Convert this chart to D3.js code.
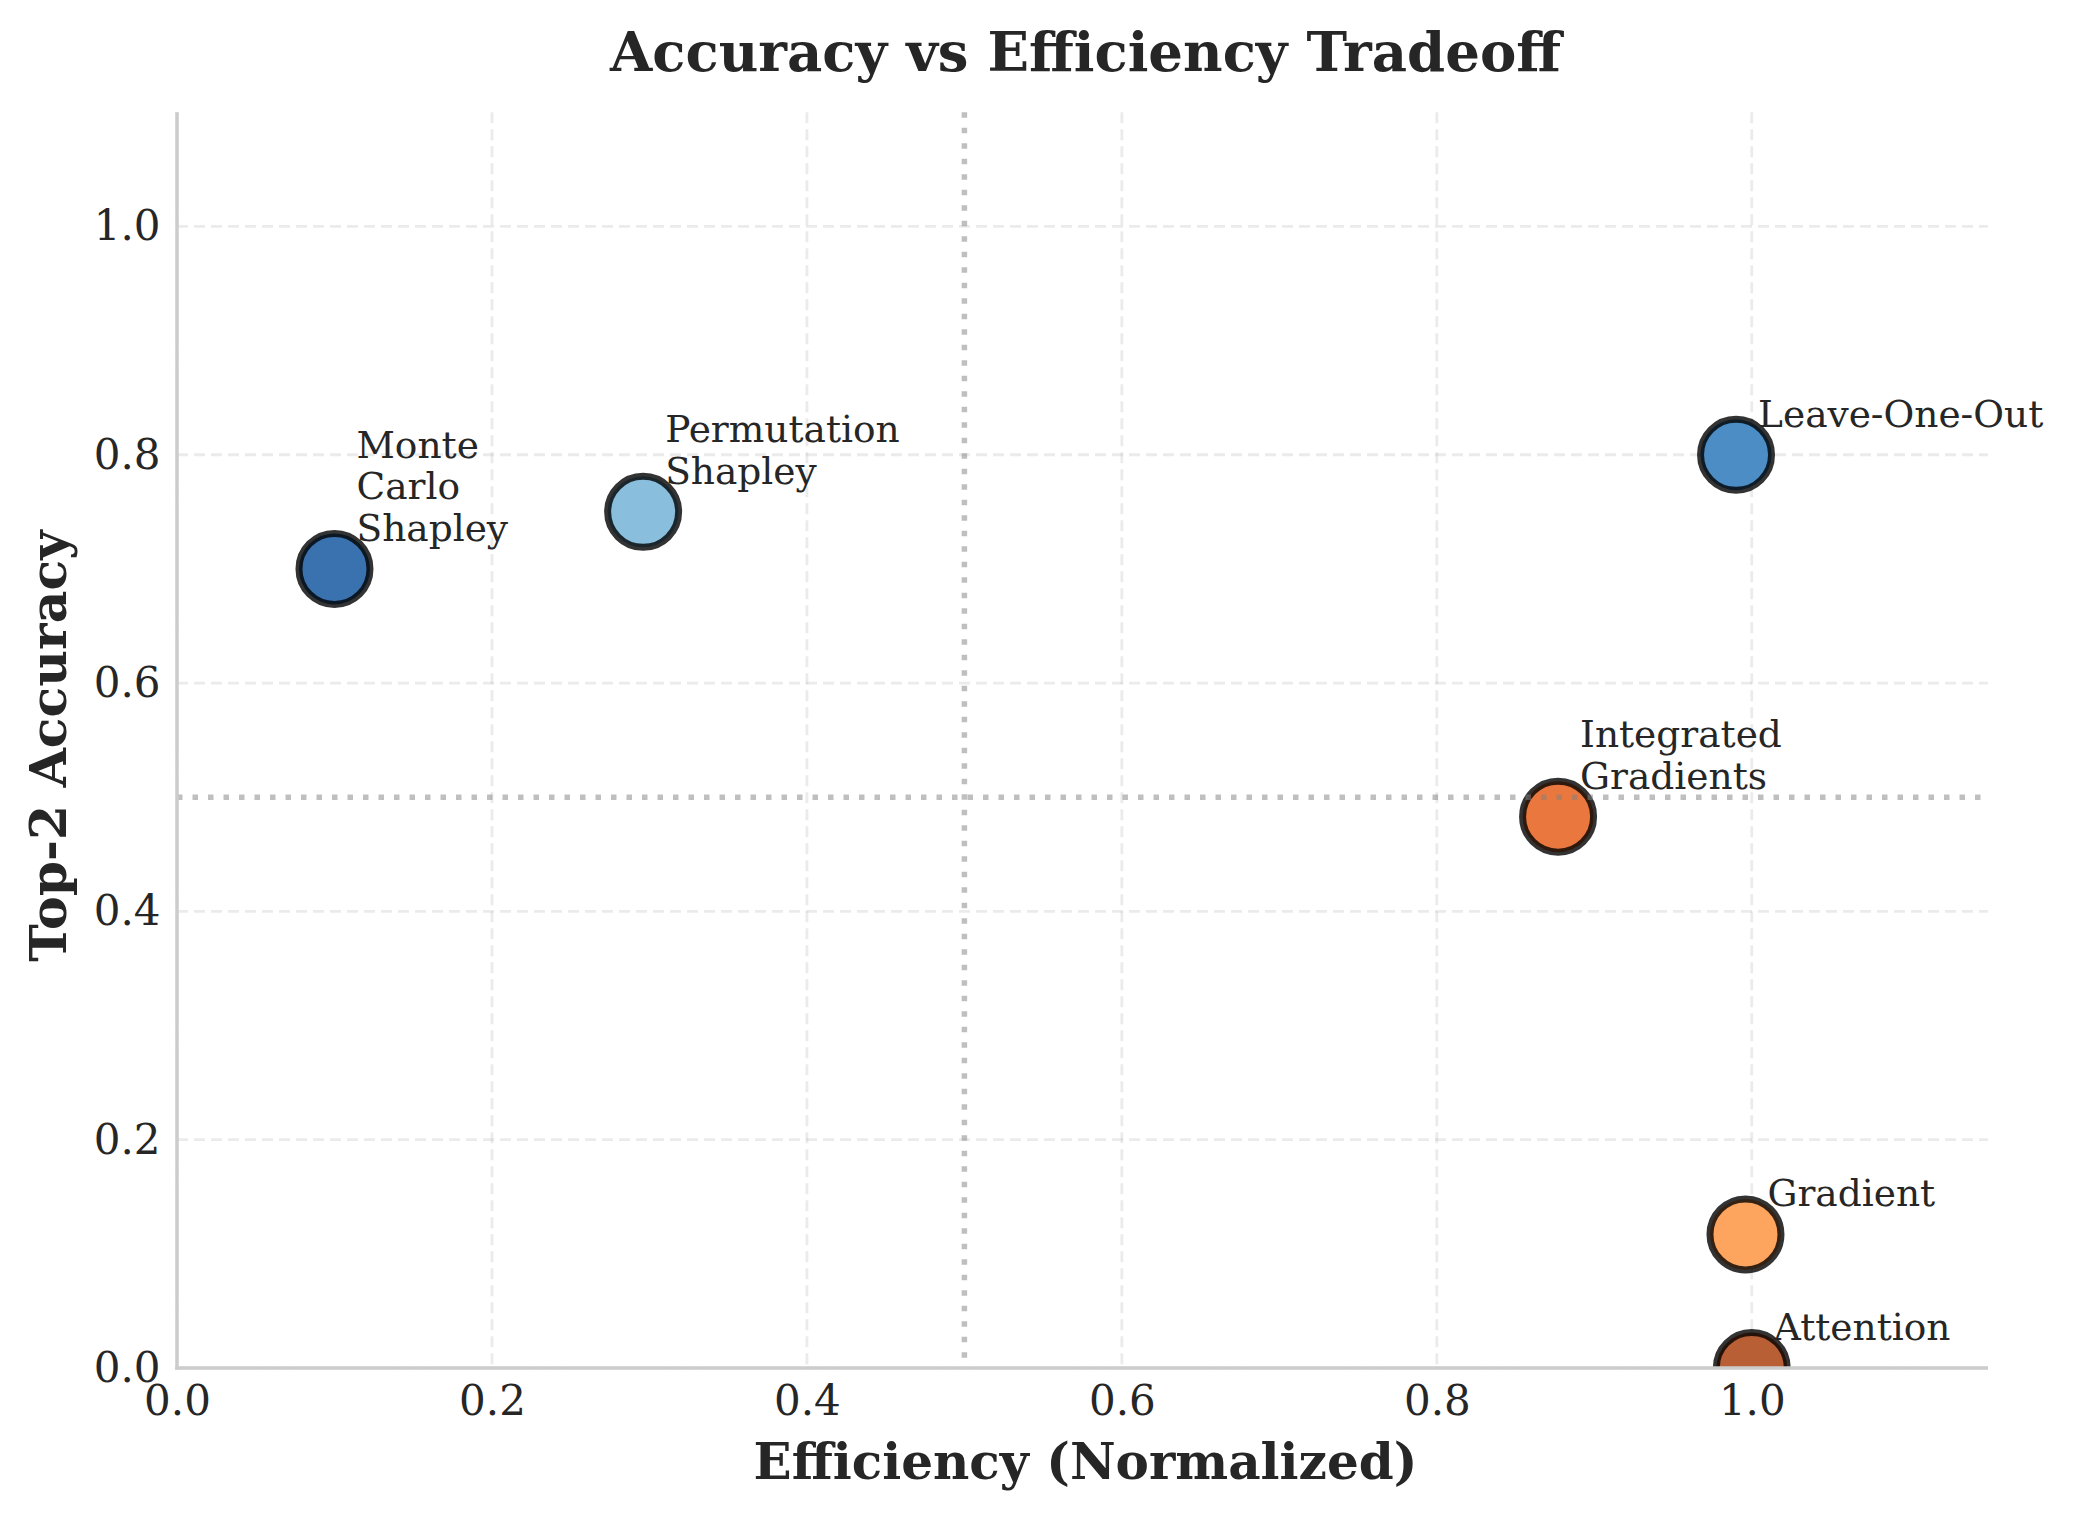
<!DOCTYPE html>
<html>
<head>
<meta charset="utf-8">
<script src="https://cdn.jsdelivr.net/npm/d3@7"></script>
<style>
  html, body { margin: 0; padding: 0; background: #ffffff; }
  svg { display: block; }
  text { font-family: "DejaVu Serif", serif; fill: #262626; }
</style>
</head>
<body>
<div id="chart"></div>
<script>
// ---- Data ----
const methods = ["Monte Carlo Shapley", "Permutation Shapley", "Leave-One-Out", "Integrated Gradients", "Gradient", "Attention"];
const labelLines = [["Monte", "Carlo", "Shapley"], ["Permutation", "Shapley"], ["Leave-One-Out"], ["Integrated", "Gradients"], ["Gradient"], ["Attention"]];
const efficiency = [0.10, 0.296, 0.99, 0.877, 0.996, 1.0];
const accuracy = [0.70, 0.75, 0.80, 0.483, 0.117, 0.0];
const colors = ["#3a72b0", "#89bedc", "#4b8dc4", "#e9773e", "#fda45f", "#b85f35"];
const xTicks = [0.0, 0.2, 0.4, 0.6, 0.8, 1.0];
const yTicks = [0.0, 0.2, 0.4, 0.6, 0.8, 1.0];
const xDomain = [0, 1.15];
const yDomain = [0, 1.1];
const refX = 0.5;
const refY = 0.5;
const titleText = "Accuracy vs Efficiency Tradeoff";
const xLabelText = "Efficiency (Normalized)";
const yLabelText = "Top-2 Accuracy";

(function () {
// ---- Layout ----
const W = 2073, H = 1529;
const pL = 177, pR = 1988, pT = 112.3, pB = 1368;

const svg = d3.select("#chart").append("svg")
  .attr("width", W).attr("height", H)
  .attr("viewBox", `0 0 ${W} ${H}`);

svg.append("rect").attr("width", W).attr("height", H).attr("fill", "#ffffff");

const x = d3.scaleLinear().domain(xDomain).range([pL, pR]);
const y = d3.scaleLinear().domain(yDomain).range([pB, pT]);

svg.append("defs").append("clipPath").attr("id", "plotclip")
  .append("rect").attr("x", pL).attr("y", pT)
  .attr("width", pR - pL).attr("height", pB - pT);

// Grid
const grid = svg.append("g").attr("class", "grid");
grid.selectAll("line.vg").data(xTicks).join("line")
  .attr("x1", d => x(d)).attr("x2", d => x(d))
  .attr("y1", pT).attr("y2", pB)
  .attr("stroke", "#b0b0b0").attr("stroke-opacity", 0.25)
  .attr("stroke-width", 2.8).attr("stroke-dasharray", "11 6");
grid.selectAll("line.hg").data(yTicks).join("line")
  .attr("x1", pL).attr("x2", pR)
  .attr("y1", d => y(d)).attr("y2", d => y(d))
  .attr("stroke", "#b0b0b0").attr("stroke-opacity", 0.25)
  .attr("stroke-width", 2.8).attr("stroke-dasharray", "11 6");

// Points
const pts = methods.map((m, i) => ({ m, e: efficiency[i], a: accuracy[i], c: colors[i], lines: labelLines[i] }));
svg.append("g").attr("clip-path", "url(#plotclip)")
  .selectAll("circle").data(pts).join("circle")
  .attr("cx", d => x(d.e)).attr("cy", d => y(d.a))
  .attr("r", 35.5)
  .attr("fill", d => d.c)
  .attr("stroke", "#000000").attr("stroke-opacity", 0.8)
  .attr("stroke-width", 7);

// Reference lines
svg.append("line")
  .attr("x1", x(refX)).attr("x2", x(refX))
  .attr("y1", pT).attr("y2", pB)
  .attr("stroke", "#808080").attr("stroke-opacity", 0.5)
  .attr("stroke-width", 5.5).attr("stroke-dasharray", "5.5 10");
svg.append("line")
  .attr("x1", pL).attr("x2", pR)
  .attr("y1", y(refY)).attr("y2", y(refY))
  .attr("stroke", "#808080").attr("stroke-opacity", 0.5)
  .attr("stroke-width", 5.5).attr("stroke-dasharray", "5.5 10");

// Axes
const xAxis = svg.append("g").attr("transform", `translate(0,${pB})`)
  .call(d3.axisBottom(x).tickValues(xTicks).tickFormat(d3.format(".1f")).tickSize(0).tickPadding(17));
const yAxis = svg.append("g").attr("transform", `translate(${pL},0)`)
  .call(d3.axisLeft(y).tickValues(yTicks).tickFormat(d3.format(".1f")).tickSize(0).tickPadding(16.5));
[xAxis, yAxis].forEach(g => {
  g.select(".domain").remove();
  g.selectAll("text").attr("font-size", 42).attr("fill", "#262626")
    .style("font-family", "'DejaVu Serif', serif");
});

// Spines
svg.append("line").attr("x1", pL).attr("x2", pL).attr("y1", pT).attr("y2", pB + 1.75)
  .attr("stroke", "#cccccc").attr("stroke-width", 3.5);
svg.append("line").attr("x1", pL - 1.75).attr("x2", pR).attr("y1", pB).attr("y2", pB)
  .attr("stroke", "#cccccc").attr("stroke-width", 3.5);

// Annotations
const lineH = 41.6;
const ann = svg.append("g");
pts.forEach(d => {
  const cx = x(d.e), cy = y(d.a);
  const n = d.lines.length;
  const t = ann.append("text").attr("font-size", 37.5);
  d.lines.forEach((ln, k) => {
    t.append("tspan")
      .attr("x", cx + 22)
      .attr("y", cy - 28 - (n - 1 - k) * lineH)
      .text(ln);
  });
});

// Title & axis labels
svg.append("text").attr("x", (pL + pR) / 2 + 3).attr("y", 71)
  .attr("text-anchor", "middle").attr("font-size", 54.5).attr("font-weight", "bold")
  .text(titleText);
svg.append("text").attr("x", (pL + pR) / 2 + 3).attr("y", 1479)
  .attr("text-anchor", "middle").attr("font-size", 50).attr("font-weight", "bold")
  .text(xLabelText);
svg.append("text")
  .attr("transform", `translate(66,${(pT + pB) / 2 + 6}) rotate(-90)`)
  .attr("text-anchor", "middle").attr("font-size", 50.5).attr("font-weight", "bold")
  .text(yLabelText);
})();
</script>
</body>
</html>
